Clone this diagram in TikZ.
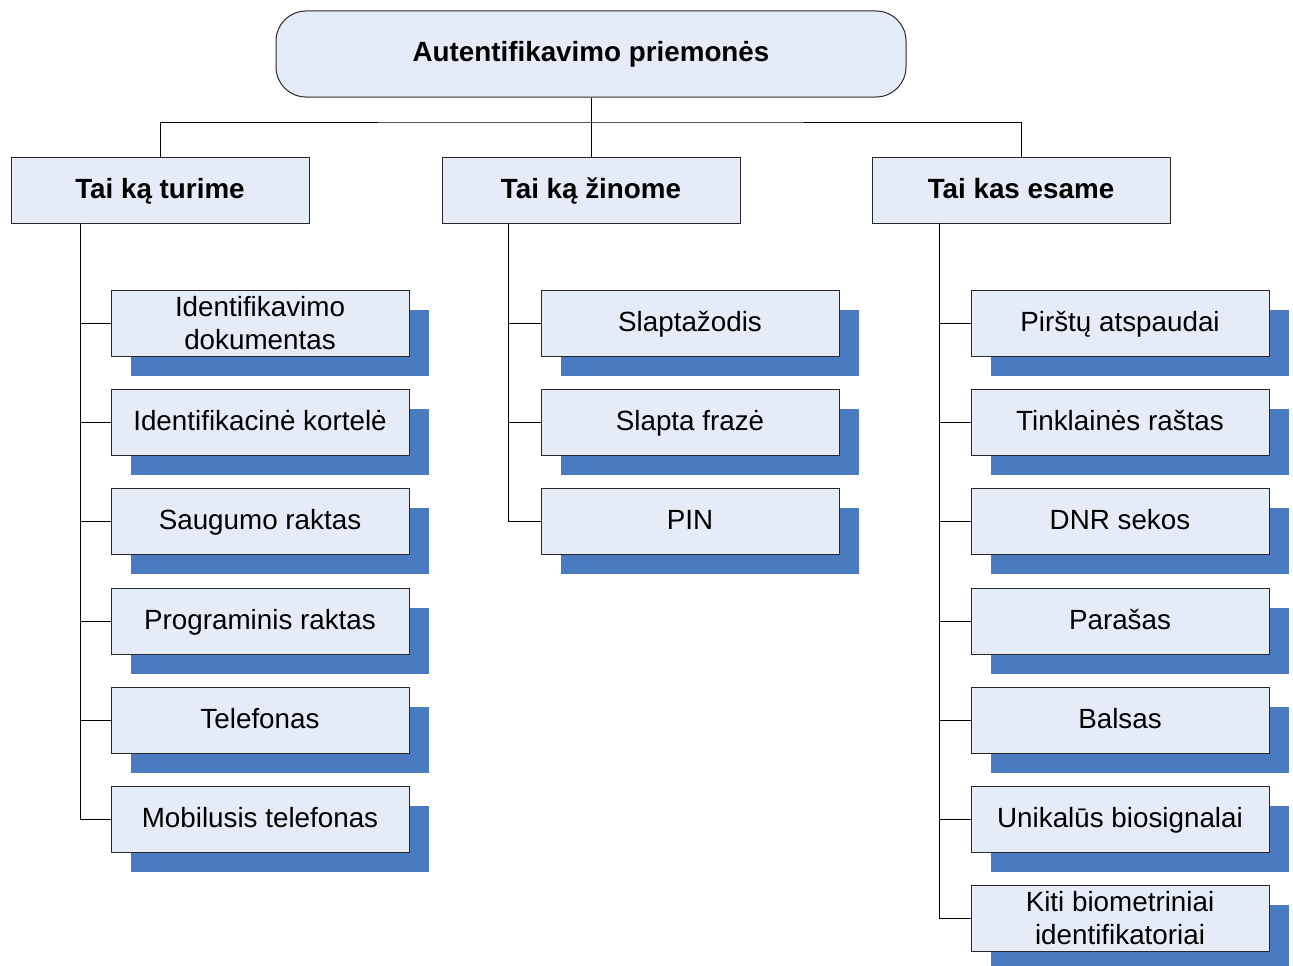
\documentclass[tikz,border=0pt]{standalone}
\usepackage{fontspec}
\setmainfont{Liberation Sans}
\definecolor{boxfill}{RGB}{230,236,247}
\definecolor{shadowblue}{RGB}{74,122,192}
\definecolor{edge}{RGB}{40,40,40}
\begin{document}
\begin{tikzpicture}[x=1pt,y=-1pt,
  txt/.style={font=\fontsize{27.8}{33}\selectfont, align=center},
  oneline/.style={text height=18pt, text depth=2pt},
  rootbox/.style={txt, oneline, font=\fontsize{27.8}{33}\selectfont\bfseries, draw=edge, line width=1pt, fill=boxfill, rounded corners=30pt, minimum width=630pt, minimum height=86pt, inner sep=0pt},
  catbox/.style={txt, oneline, font=\fontsize{27.8}{33}\selectfont\bfseries, draw=edge, line width=1pt, fill=boxfill, minimum width=298pt, minimum height=66pt, inner sep=0pt},
  itembox/.style={txt, draw=edge, line width=1pt, fill=boxfill, minimum width=298pt, minimum height=66pt, inner sep=0pt},
  conn/.style={line width=1pt, black}
]
\useasboundingbox (0,0) rectangle (1293,966);
% root
\node[rootbox] (root) at (591,54) {Autentifikavimo priemonės};
% categories
\node[catbox] (A) at (160,190) {Tai ką turime};
\node[catbox] (B) at (591,190) {Tai ką žinome};
\node[catbox] (C) at (1021,190) {Tai kas esame};
\coordinate (bus) at (591,122);
\draw[conn] (root.south) -- (bus);
\draw[conn] (A.north) |- (bus) -| (C.north);
\draw[conn] (bus) -- (B.north);
% shadows + items
\newcommand{\itemnode}[5]{%
  \fill[shadowblue] (#2-149+20,#3-33+20) rectangle (#2+149+20,#3+33+20);
  \node[itembox,#5] (#1) at (#2,#3) {#4};
}
\itemnode{a1}{260}{323}{Identifikavimo\\dokumentas}{}
\itemnode{a2}{260}{422}{Identifikacinė kortelė}{oneline}
\itemnode{a3}{260}{521}{Saugumo raktas}{oneline}
\itemnode{a4}{260}{621}{Programinis raktas}{oneline}
\itemnode{a5}{260}{720}{Telefonas}{oneline}
\itemnode{a6}{260}{819}{Mobilusis telefonas}{oneline}
\itemnode{b1}{690}{323}{Slaptažodis}{oneline}
\itemnode{b2}{690}{422}{Slapta frazė}{oneline}
\itemnode{b3}{690}{521}{PIN}{oneline}
\itemnode{c1}{1120}{323}{Pirštų atspaudai}{oneline}
\itemnode{c2}{1120}{422}{Tinklainės raštas}{oneline}
\itemnode{c3}{1120}{521}{DNR sekos}{oneline}
\itemnode{c4}{1120}{621}{Parašas}{oneline}
\itemnode{c5}{1120}{720}{Balsas}{oneline}
\itemnode{c6}{1120}{819}{Unikalūs biosignalai}{oneline}
\itemnode{c7}{1120}{918}{Kiti biometriniai\\identifikatoriai}{}
% connectors
\foreach \n in {a1,a2,a3,a4,a5,a6}{\draw[conn] ([xshift=-80pt]A.south) |- (\n.west);}
\foreach \n in {b1,b2,b3}{\draw[conn] ([xshift=-83pt]B.south) |- (\n.west);}
\foreach \n in {c1,c2,c3,c4,c5,c6,c7}{\draw[conn] ([xshift=-82pt]C.south) |- (\n.west);}
\end{tikzpicture}
\end{document}
